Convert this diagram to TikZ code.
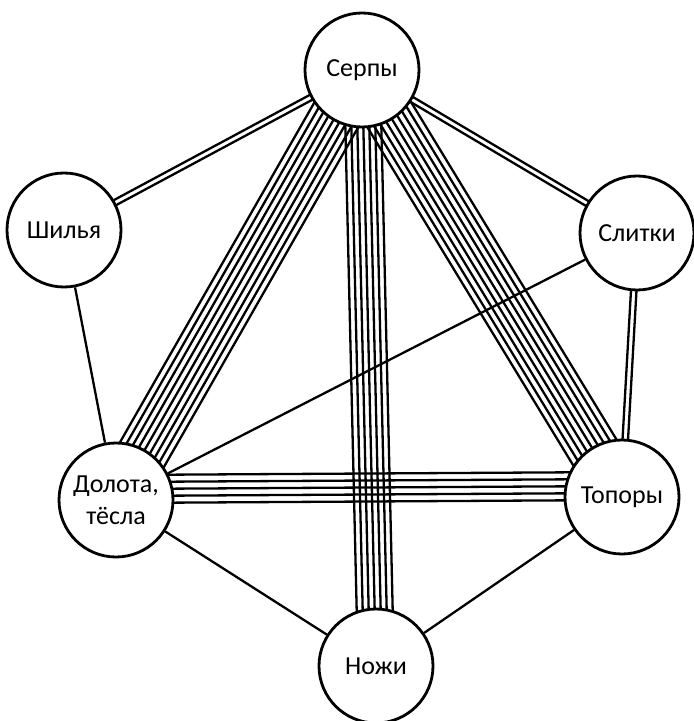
\documentclass[tikz,border=0pt]{standalone}
\usepackage{fontspec}
\setmainfont{Carlito}
\usetikzlibrary{calc,backgrounds}

% parallel strands between two nodes: [shift]{from}{to}{lines}{spacing}
\newcommand\cable[5][0]{%
  \foreach \k in {1,...,#4}{
    \pgfmathsetmacro\off{((\k-(#4+1)/2)*#5+#1)*0.5}
    \draw[strand] ($(#2)!\off pt!90:(#3)$) -- ($(#3)!\off pt!-90:(#2)$);
  }}

\begin{document}
\begin{tikzpicture}[x=0.5pt,y=-0.5pt,
  group/.style={circle,draw,line width=1.4pt,fill=white,inner sep=0pt,
    minimum size=57pt,font=\fontsize{13}{16}\selectfont},
  strand/.style={line width=1.15pt}]
  \useasboundingbox (0,0) rectangle (694,721);

  \node[group] (serpy)  at (362,70)  {Серпы};
  \node[group] (shilya) at (64,230)  {Шилья};
  \node[group] (slitki) at (637,233) {Слитки};
  \node[group,align=center] (dolota) at (116,500) {Долота,\\тёсла};
  \node[group] (topory) at (622,497) {Топоры};
  \node[group] (nozhi)  at (376,666) {Ножи};

  \begin{scope}[on background layer]
    \cable{shilya}{serpy}{2}{5.5}
    \cable{serpy}{slitki}{2}{5.5}
    \cable{slitki}{topory}{2}{5.5}
    \draw[strand] (shilya) -- (dolota);
    \draw[strand] (slitki) -- (dolota);
    \draw[strand] (dolota) -- (nozhi);
    \draw[strand] (topory) -- (nozhi);
    \cable{serpy}{dolota}{9}{6.3}
    \cable{serpy}{topory}{9}{6.3}
    \cable{serpy}{nozhi}{7}{6}
    \cable[11]{dolota}{topory}{5}{7}
  \end{scope}
\end{tikzpicture}
\end{document}
